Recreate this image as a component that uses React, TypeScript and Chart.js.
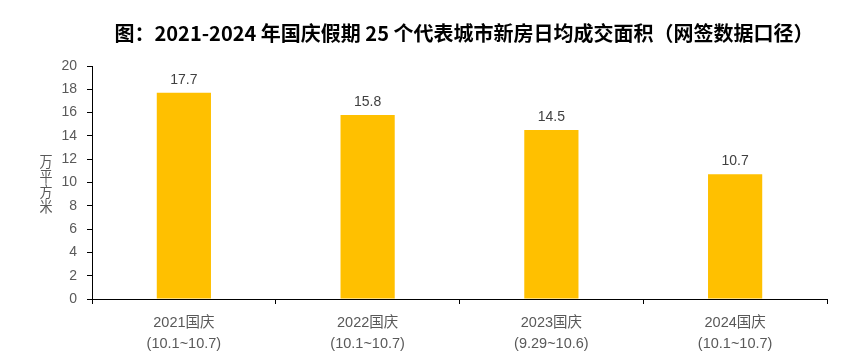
import React, { useEffect, useRef } from "react";
import { Chart, registerables } from "chart.js";

Chart.register(...registerables);

const titleText = "图：2021-2024 年国庆假期 25 个代表城市新房日均成交面积（网签数据口径）";
const yAxisLabel = "万平方米";
const categories: string[][] = [
  ["2021国庆", "(10.1~10.7)"],
  ["2022国庆", "(10.1~10.7)"],
  ["2023国庆", "(9.29~10.6)"],
  ["2024国庆", "(10.1~10.7)"],
];
const values = [17.7, 15.8, 14.5, 10.7];
const yMin = 0;
const yMax = 20;
const yStep = 2;

const FONT = "'Liberation Sans', Arial, 'Noto Sans CJK SC', sans-serif";

const overlayPlugin = {
  id: "overlay",
  afterDraw(chart: any) {
    const ctx = chart.ctx;
    ctx.save();
    // title
    ctx.fillStyle = "#000000";
    ctx.font = "bold 20px 'Noto Sans CJK SC', sans-serif";
    ctx.textAlign = "center";
    ctx.textBaseline = "middle";
    ctx.fillText(titleText, 464, 33);
    // y axis label, stacked characters
    ctx.fillStyle = "#595959";
    ctx.font = "14.5px 'Noto Sans CJK SC', sans-serif";
    const chars = Array.from(yAxisLabel);
    chars.forEach((c, i) => {
      ctx.save();
      ctx.translate(46, 161 + i * 15);
      ctx.scale(0.9, 1);
      ctx.fillText(c, 0, 0);
      ctx.restore();
    });
    // data labels
    const meta = chart.getDatasetMeta(0);
    ctx.fillStyle = "#404040";
    ctx.font = "14px " + FONT;
    ctx.textBaseline = "bottom";
    meta.data.forEach((bar: any, i: number) => {
      ctx.fillText(String(values[i].toFixed(1)), bar.x, bar.y - 6);
    });
    ctx.restore();
  },
};

export default function App() {
  const ref = useRef<HTMLCanvasElement>(null);
  useEffect(() => {
    document.body.style.margin = "0";
    const chart = new Chart(ref.current!, {
      type: "bar",
      data: {
        labels: categories,
        datasets: [
          {
            data: values,
            backgroundColor: "#FFC000",
            barPercentage: 0.59,
            categoryPercentage: 0.5,
          },
        ],
      },
      options: {
        animation: false,
        responsive: false,
        maintainAspectRatio: false,
        layout: { padding: { top: 66, right: 29, bottom: 0, left: 0 } },
        plugins: {
          legend: { display: false },
          title: { display: false },
          tooltip: { enabled: false },
        },
        scales: {
          x: {
            offset: true,
            grid: {
              offset: true,
              drawOnChartArea: false,
              drawTicks: true,
              tickLength: 5,
              color: "#000000",
            },
            border: { display: true, color: "#000000", width: 1 },
            ticks: {
              color: "#595959",
              font: { family: FONT, size: 14.5, lineHeight: 1.45 },
              padding: 8,
              maxRotation: 0,
            },
            afterFit(scale: any) {
              scale.height = 63;
            },
          },
          y: {
            min: yMin,
            max: yMax,
            grid: {
              drawOnChartArea: false,
              drawTicks: true,
              tickLength: 5,
              color: "#000000",
            },
            border: { display: true, color: "#000000", width: 1 },
            ticks: {
              stepSize: yStep,
              color: "#595959",
              font: { family: FONT, size: 14 },
              padding: 10,
            },
            afterFit(scale: any) {
              scale.width = 92;
            },
          },
        },
      },
      plugins: [overlayPlugin],
    });
    return () => chart.destroy();
  }, []);
  return <canvas ref={ref} width={856} height={362} style={{ display: "block" }} />;
}
